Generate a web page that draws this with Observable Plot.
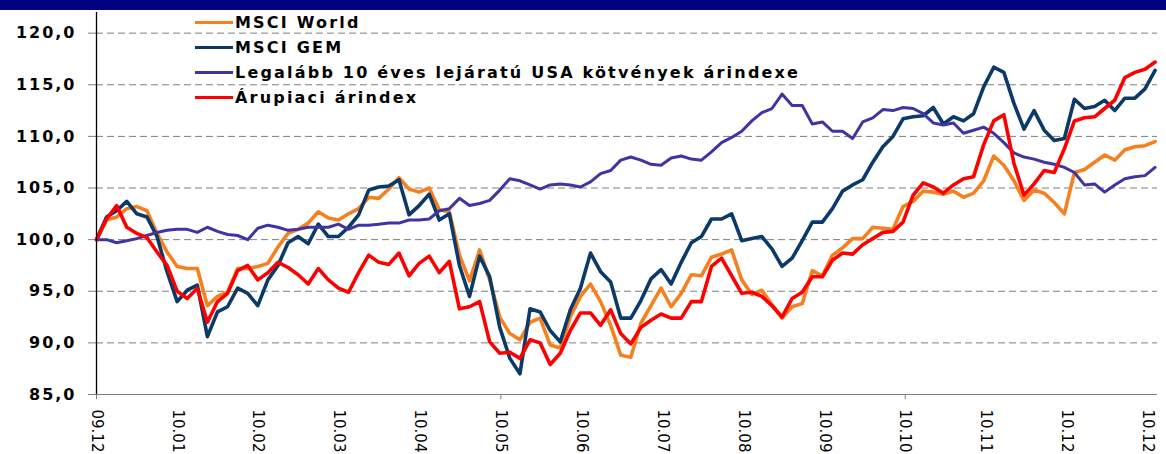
<!DOCTYPE html>
<html><head><meta charset="utf-8">
<script src="https://cdn.jsdelivr.net/npm/d3@7"></script>
<script src="https://cdn.jsdelivr.net/npm/@observablehq/plot@0.6"></script>
<style>
html,body{margin:0;padding:0;background:#fff;}
#wrap{position:relative;width:1166px;height:454px;overflow:hidden;}
#band{height:10px;background:#000080;}
#legend{position:absolute;left:195px;top:10px;font-family:"DejaVu Sans",sans-serif;font-weight:bold;font-size:16px;letter-spacing:2.2px;color:#000;}
.row{height:25px;display:flex;align-items:center;white-space:nowrap;}
.sw{width:38px;height:3px;margin-right:2px;flex:none;}
</style></head><body>
<div id="wrap"><div id="band"></div><div id="chart"></div><div id="legend"></div></div>
<script>
// x tick labels (equally spaced categories)
const tickLabels = ["09.12","10.01","10.02","10.03","10.04","10.05","10.06","10.07","10.08","10.09","10.10","10.11","10.12","10.12"];
const yTicks = [85, 90, 95, 100, 105, 110, 115, 120];
const seriesNames = ["MSCI World", "MSCI GEM", "Legalább 10 éves lejáratú USA kötvények árindexe", "Árupiaci árindex"];
const seriesColors = ["#F7801E", "#0B3A68", "#3F34A3", "#FF0000"];

const msciWorld = [
 100, 101.9, 102.2, 103.0, 103.2, 102.8, 100.6, 98.8, 97.4, 97.2, 97.2, 93.6, 94.5, 94.9, 97.2, 97.2, 97.4, 97.7, 99.3, 100.6, 101.0, 101.6, 102.7, 102.1, 101.9, 102.5, 103.0,
 104.1, 104.0, 104.9, 106.0, 104.9, 104.6, 105.0, 102.9, 102.7, 98.5, 96.0, 99.0, 96.1, 92.5, 90.9, 90.3, 92.0, 92.4, 89.8, 89.5, 92.5, 94.5, 95.7, 94.0, 91.7, 88.8,
 88.6, 91.9, 93.6, 95.3, 93.5, 94.8, 96.6, 96.5, 98.3, 98.6, 99.0, 96.1, 94.7, 95.1, 93.7, 92.4, 93.5, 93.8, 97.0, 96.5, 98.5, 99.2, 100.1, 100.1, 101.2, 101.1, 101.0,
 103.2, 103.7, 104.7, 104.6, 104.4, 104.7, 104.1, 104.5, 105.7, 108.1, 107.2, 105.7, 103.8, 104.8, 104.5, 103.6, 102.5, 106.5, 106.8, 107.5, 108.2, 107.7, 108.7, 109.0, 109.1, 109.5
];
const msciGem = [
 100, 102.2, 102.8, 103.7, 102.5, 102.2, 100.3, 96.9, 94.0, 95.1, 95.6, 90.6, 93.0, 93.5, 95.3, 94.8, 93.6, 96.1, 97.5, 99.7, 100.3, 99.6, 101.5, 100.3, 100.3, 101.2, 102.4,
 104.8, 105.1, 105.2, 105.8, 102.4, 103.3, 104.4, 101.9, 102.5, 97.5, 94.5, 98.4, 96.4, 91.5, 88.5, 87.0, 93.3, 93.0, 91.2, 90.1, 93.2, 95.3, 98.7, 96.9, 95.9, 92.4,
 92.4, 94.1, 96.2, 97.1, 95.7, 97.8, 99.7, 100.3, 102.0, 102.0, 102.5, 99.9, 100.1, 100.3, 99.1, 97.4, 98.2, 99.9, 101.7, 101.7, 103.0, 104.7, 105.3, 105.8, 107.5, 109.0, 110.0,
 111.7, 111.9, 112.0, 112.8, 111.2, 111.9, 111.5, 112.2, 114.8, 116.7, 116.2, 113.2, 110.7, 112.5, 110.6, 109.6, 109.8, 113.6, 112.7, 112.9, 113.5, 112.5, 113.7, 113.7, 114.6, 116.4
];
const usBonds = [
 100, 100.0, 99.7, 99.9, 100.1, 100.4, 100.7, 100.9, 101.0, 101.0, 100.7, 101.2, 100.8, 100.5, 100.4, 100.0, 101.1, 101.4, 101.2, 100.9, 101.0, 101.2, 101.2, 101.2, 101.5, 101.0, 101.4,
 101.4, 101.5, 101.6, 101.6, 101.9, 101.9, 102.0, 102.8, 103.0, 104.0, 103.3, 103.5, 103.8, 104.8, 105.9, 105.7, 105.3, 104.9, 105.3, 105.4, 105.3, 105.1, 105.6, 106.4, 106.7, 107.7,
 108.0, 107.7, 107.3, 107.2, 107.9, 108.1, 107.8, 107.7, 108.5, 109.4, 109.9, 110.5, 111.5, 112.3, 112.7, 114.1, 113.0, 113.0, 111.2, 111.4, 110.5, 110.5, 109.8, 111.4, 111.8, 112.6, 112.5,
 112.8, 112.7, 112.2, 111.3, 111.1, 111.3, 110.3, 110.6, 110.9, 110.3, 109.4, 108.4, 108.0, 107.8, 107.5, 107.3, 107.0, 106.5, 105.3, 105.4, 104.6, 105.3, 105.9, 106.1, 106.2, 107.0
];
const commodity = [
 100, 102.0, 103.3, 101.2, 100.6, 100.2, 98.8, 97.5, 95.0, 94.3, 95.3, 92.0, 94.0, 94.8, 97.0, 97.5, 96.1, 96.8, 97.8, 97.3, 96.6, 95.7, 97.2, 96.1, 95.3, 94.9, 96.8,
 98.5, 97.8, 97.6, 98.7, 96.5, 97.7, 98.4, 96.8, 97.9, 93.3, 93.5, 94.0, 90.1, 89.0, 89.1, 88.5, 90.3, 90.0, 87.9, 89.0, 91.2, 92.9, 92.9, 91.7, 93.2, 90.9,
 89.9, 91.5, 92.2, 92.8, 92.4, 92.4, 94.0, 94.0, 97.4, 98.2, 96.5, 94.8, 94.9, 94.5, 93.6, 92.5, 94.3, 94.9, 96.4, 96.4, 98.0, 98.7, 98.6, 99.5, 100.1, 100.7, 100.8,
 101.7, 104.3, 105.5, 105.1, 104.5, 105.3, 105.9, 106.1, 109.2, 111.5, 112.1, 107.4, 104.3, 105.4, 106.7, 106.5, 108.8, 111.5, 111.8, 111.9, 112.7, 113.5, 115.7, 116.2, 116.5, 117.2
];

const seriesValues = [msciWorld, msciGem, usBonds, commodity];
const seriesWidths = [3.6, 3.6, 3, 3.6];
// observations are evenly spaced; last one falls just after the last tick label
const step = 13.09 / (msciWorld.length - 1);
const tickPositions = tickLabels.map((_, i) => i);
const fmt = v => v.toFixed(1).replace(".", ",");

const lineMarks = seriesValues.map((vals, s) =>
  Plot.line(vals.map((v, i) => ({t: i * step, v})), {
    x: "t", y: "v", stroke: seriesColors[s], strokeWidth: seriesWidths[s],
    strokeLinejoin: "round", strokeLinecap: "round"
  })
);

const chart = Plot.plot({
  width: 1166, height: 444,
  marginLeft: 96, marginRight: 9, marginTop: 2, marginBottom: 60,
  x: {domain: [0, tickLabels.length - 1 + 0.12]},
  y: {domain: [85, 122]},
  style: {fontFamily: "DejaVu Sans, sans-serif", background: "transparent", color: "#000", overflow: "visible"},
  marks: [
    Plot.ruleY(yTicks.filter(v => v > yTicks[0]), {stroke: "#7f7f7f", strokeWidth: 1, strokeDasharray: "7,4"}),
    Plot.ruleY([yTicks[0]], {stroke: "#7f7f7f", strokeWidth: 1.2}),
    Plot.ruleX(tickPositions.filter(i => i % 5 === 0), {y1: yTicks[0], y2: yTicks[0] - 0.5, stroke: "#7f7f7f"}),
    Plot.axisY({ticks: yTicks, tickFormat: fmt, tickSize: 8, tickPadding: 12, stroke: "#7f7f7f", fill: "#000",
      fontSize: 16, fontWeight: "bold", label: null}),
    Plot.axisX({ticks: tickPositions, tickFormat: i => tickLabels[i], tickRotate: 90, tickSize: 0, tickPadding: 15,
      fontSize: 15, fill: "#000", label: null}),
    ...lineMarks,
    Plot.ruleX([0], {stroke: "#000", strokeWidth: 1.3})
  ]
});
chart.querySelectorAll('g[aria-label="y-axis tick label"] text').forEach(t => t.style.letterSpacing = "2px");
document.getElementById("chart").appendChild(chart);

const legend = document.getElementById("legend");
seriesNames.forEach((name, s) => {
  const row = document.createElement("div");
  row.className = "row";
  const sw = document.createElement("span");
  sw.className = "sw";
  sw.style.background = seriesColors[s];
  const tx = document.createElement("span");
  tx.textContent = name;
  row.appendChild(sw); row.appendChild(tx);
  legend.appendChild(row);
});
</script>
</body></html>
